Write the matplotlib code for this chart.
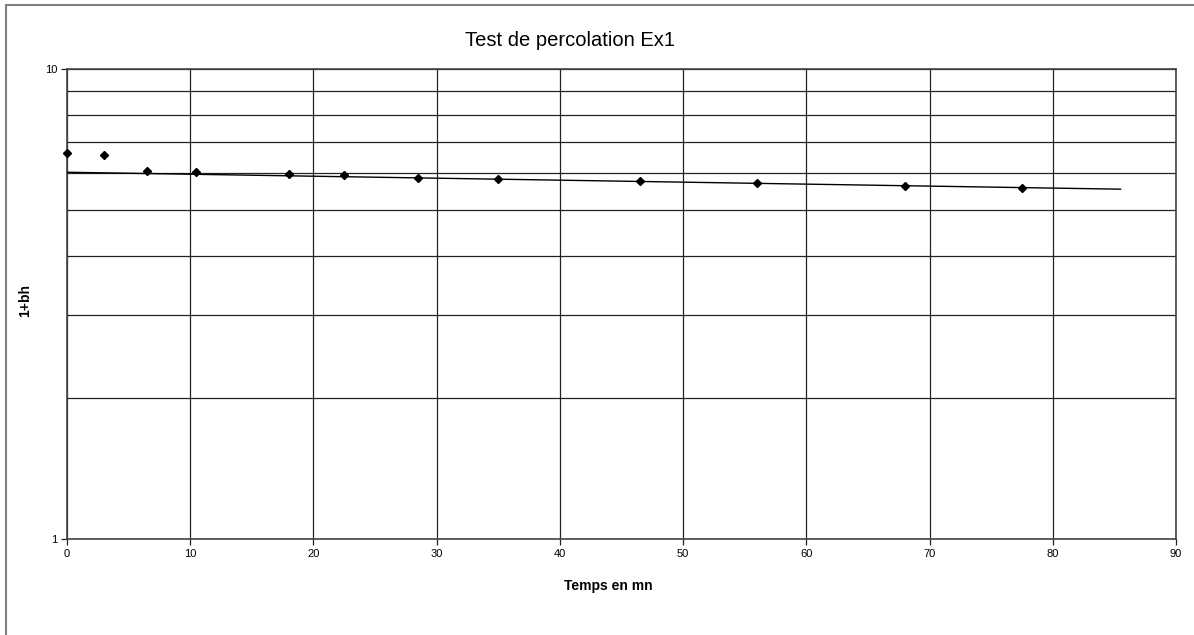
import numpy as np
import matplotlib
matplotlib.use("Agg")
import matplotlib.pyplot as plt
from matplotlib.ticker import FixedLocator, NullFormatter, FixedFormatter
from matplotlib.patches import Rectangle

plt.rcParams['font.family'] = ['Liberation Sans', 'DejaVu Sans']

# Data
temps = [0, 3, 6.5, 10.5, 18, 22.5, 28.5, 35, 46.5, 56, 68, 77.5]
valeurs = [6.62, 6.57, 6.06, 6.03, 5.97, 5.94, 5.87, 5.83, 5.775, 5.72, 5.64, 5.58]
# exponential trend line (start / end)
trend_t = [0, 85.5]
trend_v = [6.03, 5.55]
x_ticks = [0, 10, 20, 30, 40, 50, 60, 70, 80, 90]
y_major = [1, 10]
y_minor = [2, 3, 4, 5, 6, 7, 8, 9]

fig = plt.figure(figsize=(11.94, 6.35), dpi=100)
ax = fig.add_axes([67/1194, 1-539/635, (1176-67)/1194, (539-69)/635])

# outer chart border (left/top visible)
fig.patches.append(Rectangle((6/1194, -0.1), 1.2, 1-5/635+0.1, transform=fig.transFigure,
                             fill=False, edgecolor='#808080', linewidth=1.5, zorder=0))

ax.set_yscale('log')
ax.set_xlim(0, 90)
ax.set_ylim(1, 10)

# trend line (exponential between read end points)
tt = np.linspace(trend_t[0], trend_t[1], 50)
b = np.log(trend_v[1] / trend_v[0]) / (trend_t[1] - trend_t[0])
ax.plot(tt, trend_v[0] * np.exp(b * (tt - trend_t[0])), color='black', linewidth=1, zorder=3)

ax.plot(temps, valeurs, linestyle='none', marker='D', markersize=4.3,
        color='black', zorder=4, clip_on=False)

ax.xaxis.set_major_locator(FixedLocator(x_ticks))
ax.yaxis.set_major_locator(FixedLocator(y_major))
ax.yaxis.set_major_formatter(FixedFormatter([str(y) for y in y_major]))
ax.yaxis.set_minor_locator(FixedLocator(y_minor))
ax.yaxis.set_minor_formatter(NullFormatter())

ax.grid(True, which='major', axis='x', color='#222222', linewidth=0.9)
ax.grid(True, which='both', axis='y', color='#222222', linewidth=0.9)
ax.set_axisbelow(True)

ax.tick_params(axis='both', which='major', labelsize=8, length=4, width=0.9,
               color='#222222', direction='out', pad=3)
ax.tick_params(axis='y', which='minor', length=0)

for s in ax.spines.values():
    s.set_color('#444444')
    s.set_linewidth(1.2)

fig.text(570/1194, 1-41/635, 'Test de percolation Ex1', fontsize=14.5,
         ha='center', va='center')
fig.text(608/1194, 1-586/635, 'Temps en mn', fontsize=10, fontweight='bold',
         ha='center', va='center')
fig.text(25/1194, 1-300/635, '1+bh', fontsize=10, fontweight='bold',
         ha='center', va='center', rotation=90)

fig.savefig('out.png', dpi=100)
